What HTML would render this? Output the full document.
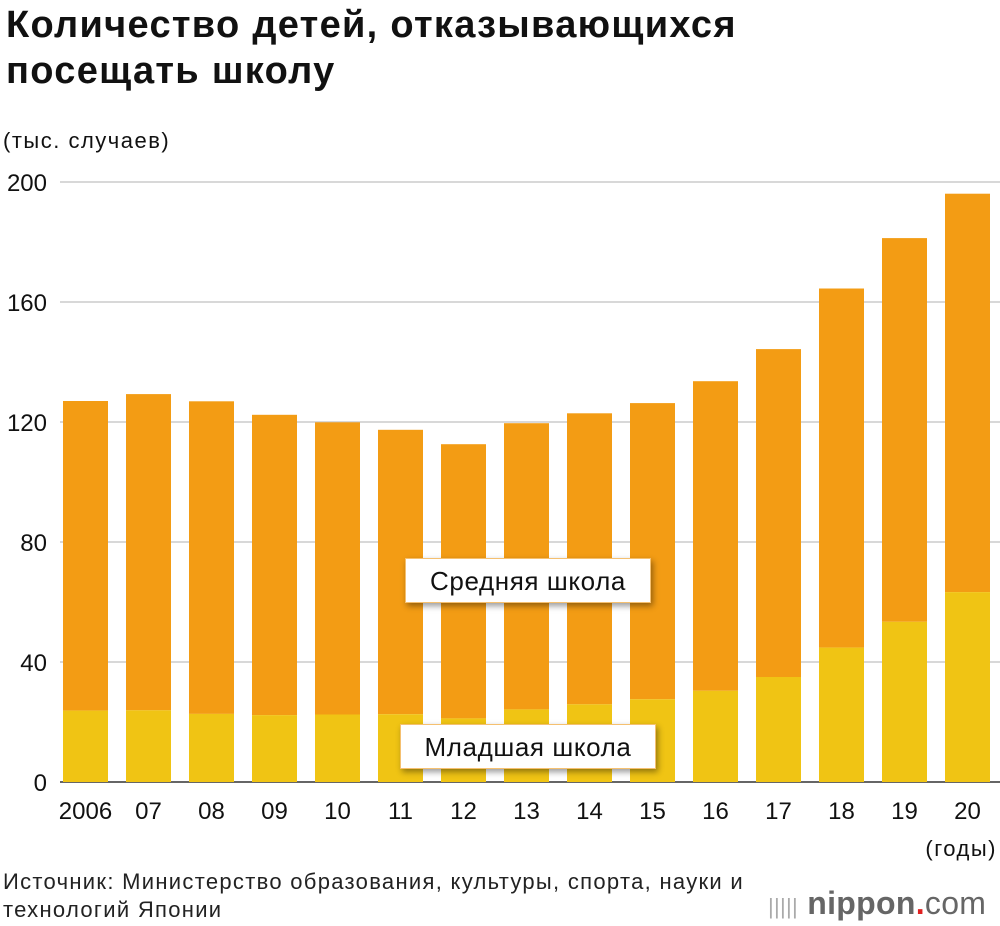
<!DOCTYPE html>
<html><head><meta charset="utf-8"><style>
body{margin:0;background:#fff;font-family:"Liberation Sans","DejaVu Sans",sans-serif}
#w{position:relative;width:1000px;height:926px;overflow:hidden}
.t{position:absolute;left:6px;top:2px;font-size:38px;font-weight:bold;line-height:46px;color:#111;letter-spacing:1.3px}
.lab{position:absolute;background:#fff;font-size:26px;letter-spacing:0.6px;color:#111;text-align:center;box-shadow:2px 3px 6px rgba(0,0,0,0.4);border:1px solid #f5c070;box-sizing:border-box}
</style></head><body><div id="w">
<div class="t">Количество детей, отказывающихся<br>посещать школу</div>
<svg id="c" width="1000" height="926" style="position:absolute;left:0;top:0"></svg>
<div class="lab" style="left:405px;top:558px;width:246px;height:45px;line-height:45px">Средняя школа</div>
<div class="lab" style="left:400px;top:724px;width:256px;height:45px;line-height:45px">Младшая школа</div>
<div style="position:absolute;left:3px;top:868px;font-size:22px;letter-spacing:1.3px;line-height:28px;color:#222;white-space:nowrap">Источник: Министерство образования, культуры, спорта, науки и<br>технологий Японии</div>
<div style="position:absolute;left:768px;top:883px;font-size:32px;color:#666;font-weight:bold;letter-spacing:0.3px;white-space:nowrap;line-height:40px"><span style="font-size:22px;color:#aaa;font-weight:normal">|||||</span> nippon<span style="color:#e02020">.</span><span style="font-weight:normal">com</span></div>
</div>
<script>
const years=["2006","07","08","09","10","11","12","13","14","15","16","17","18","19","20"];
const elementary=[23.8,23.9,22.7,22.3,22.5,22.6,21.2,24.2,25.9,27.6,30.4,35.0,44.8,53.4,63.3];
const juniorHigh=[103.2,105.4,104.2,100.1,97.4,94.8,91.4,95.4,97.0,98.7,103.2,109.3,119.7,127.9,132.8];
const yTicks=[0,40,80,120,160,200];
const svg=document.getElementById('c');const NS='http://www.w3.org/2000/svg';
const y=v=>782-v*3;const x=i=>85.5+i*63;const bw=45;
function mk(t,a){const e=document.createElementNS(NS,t);for(const k in a)e.setAttribute(k,a[k]);svg.appendChild(e);return e;}
yTicks.forEach(v=>{
 const l=mk('line',{x1:60,x2:1000,y1:y(v),y2:y(v),stroke:v==0?'#333':'#ccc','stroke-width':1.5});
 
 
 const t=mk('text',{x:47,y:y(v)+9,'text-anchor':'end','font-size':24,fill:'#111','font-family':'Liberation Sans'});t.textContent=v;
 
 
});
const u=mk('text',{x:3,y:148,'font-size':22,'letter-spacing':1.5,fill:'#111','font-family':'Liberation Sans'});u.textContent='(тыс. случаев)';


years.forEach((yr,i)=>{
 const e=elementary[i],j=juniorHigh[i];
 const r1=mk('rect',{x:x(i)-bw/2,y:y(e+j),width:bw,height:j*3,fill:'#F39C14'});
 
 
 const r2=mk('rect',{x:x(i)-bw/2,y:y(e),width:bw,height:e*3,fill:'#F0C414'});
 
 
 const t=mk('text',{x:x(i),y:819,'text-anchor':'middle','font-size':24,fill:'#111','font-family':'Liberation Sans'});t.textContent=yr;
 
 
});
const g=mk('text',{x:997,y:856,'text-anchor':'end','font-size':22,'letter-spacing':1.5,fill:'#111','font-family':'Liberation Sans'});g.textContent='(годы)';


</script></body></html>
